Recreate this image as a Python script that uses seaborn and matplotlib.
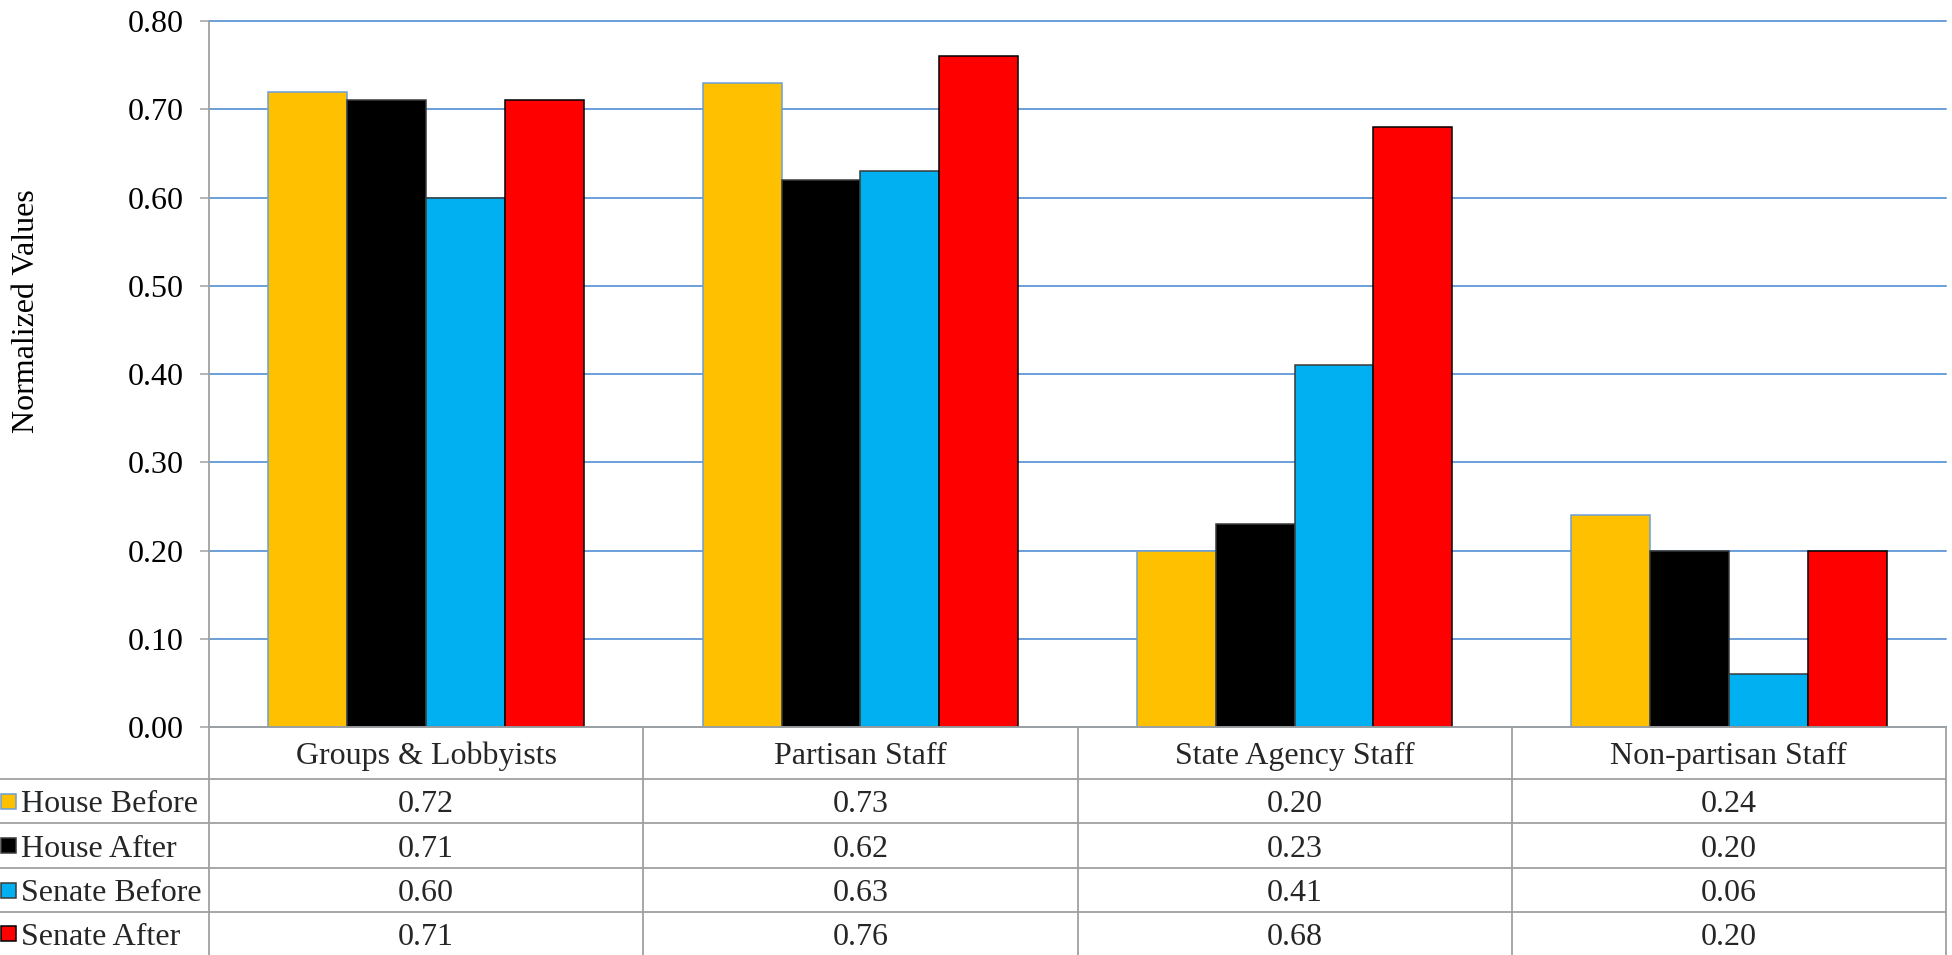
import matplotlib
matplotlib.use("Agg")
import matplotlib.pyplot as plt
import numpy as np
import pandas as pd
import seaborn as sns
from matplotlib.patches import Rectangle
from matplotlib.ticker import FormatStrFormatter
from matplotlib.transforms import blended_transform_factory

# ---- data ----
categories = ["Groups & Lobbyists", "Partisan Staff", "State Agency Staff", "Non-partisan Staff"]
series_names = ["House Before", "House After", "Senate Before", "Senate After"]
house_before = [0.72, 0.73, 0.20, 0.24]
house_after = [0.71, 0.62, 0.23, 0.20]
senate_before = [0.60, 0.63, 0.41, 0.06]
senate_after = [0.71, 0.76, 0.68, 0.20]
y_ticks = [0.00, 0.10, 0.20, 0.30, 0.40, 0.50, 0.60, 0.70, 0.80]
y_label = "Normalized Values"

series_values = [house_before, house_after, senate_before, senate_after]

# ---- style ----
fill_colors = ["#FFC000", "#000000", "#00B0F0", "#FF0000"]
edge_colors = ["#6A9FD8", "#3A3A3A", "#3A3A3A", "#000000"]
grid_color = "#6A9FD8"
rule_color = "#A0A0A0"
FS = 23

sns.set_theme(style="white")
plt.rcParams["font.family"] = ["Liberation Serif", "DejaVu Serif"]

W, H = 1952, 955
fig = plt.figure(figsize=(W / 100, H / 100), dpi=100)


def px_box(left, top, right, bottom):
    return [left / W, 1 - bottom / H, (right - left) / W, (bottom - top) / H]


ax = fig.add_axes(px_box(209, 21, 1946, 727))
ax_t = fig.add_axes(px_box(209, 727, 1946, 955))

# ---- bars ----
df = pd.DataFrame(
    [(cat, name, vals[i]) for name, vals in zip(series_names, series_values)
     for i, cat in enumerate(categories)],
    columns=["category", "series", "value"],
)
sns.barplot(
    data=df, x="category", y="value", hue="series",
    order=categories, hue_order=series_names,
    palette=fill_colors, saturation=1, width=0.726,
    linewidth=1.1, legend=False, ax=ax, zorder=3,
)
for cont, ec in zip(ax.containers, edge_colors):
    for patch in cont:
        patch.set_edgecolor(ec)

ax.set_xlim(-0.5, 3.5)
ax.set_ylim(0, 0.8)
ax.set_yticks(y_ticks)
ax.yaxis.set_major_formatter(FormatStrFormatter("%.2f"))
ax.set_xticks([])
ax.set_xlabel("")
ax.set_ylabel("")
ax.yaxis.grid(True, color=grid_color, linewidth=1.4)
ax.set_axisbelow(True)
for gl in ax.get_ygridlines():
    gl.set_clip_on(False)
for side in ("top", "right"):
    ax.spines[side].set_visible(False)
for side in ("left", "bottom"):
    ax.spines[side].set_color(rule_color)
    ax.spines[side].set_linewidth(1.3)
    ax.spines[side].set_zorder(4)
ax.tick_params(axis="y", left=True, length=6.5, width=1.1, color=rule_color,
               pad=12, labelsize=FS, labelcolor="black", direction="out")

fig.text(27 / W, 1 - 311 / H, y_label, rotation=90, ha="center", va="center",
         fontsize=FS, color="black")

# ---- data table under the bars ----
ax_t.set_xlim(-0.5, 3.5)
ax_t.set_ylim(228, 0)
ax_t.axis("off")

bounds = [0, 52, 96, 141, 185, 228]
left_ext = -209 / (1946 - 209)
tr_h = blended_transform_factory(ax_t.transAxes, ax_t.transData)
tr_fig = blended_transform_factory(fig.transFigure, ax_t.transData)

for b in bounds[1:-1]:
    ax_t.plot([left_ext, 1], [b, b], transform=tr_h, color=rule_color,
              lw=1.3, clip_on=False, solid_capstyle="butt")
for xb in [-0.5, 0.5, 1.5, 2.5, 3.5]:
    ax_t.plot([xb, xb], [0, 228], color=rule_color, lw=1.3, clip_on=False,
              solid_capstyle="butt")

header_c = (bounds[0] + bounds[1]) / 2
for i, cat in enumerate(categories):
    ax_t.text(i, header_c, cat, ha="center", va="center_baseline", fontsize=FS)

for r, (name, vals) in enumerate(zip(series_names, series_values)):
    c = (bounds[r + 1] + bounds[r + 2]) / 2
    for i, v in enumerate(vals):
        ax_t.text(i, c, f"{v:.2f}", ha="center", va="center_baseline", fontsize=FS)
    ax_t.add_patch(Rectangle((1 / W, c - 7.5), 15 / W, 15, transform=tr_fig,
                             facecolor=fill_colors[r], edgecolor=edge_colors[r],
                             lw=1.1, clip_on=False))
    ax_t.text(21 / W, c, name, transform=tr_fig, ha="left",
              va="center_baseline", fontsize=FS)

fig.savefig("out.png", dpi=100, facecolor="white")
